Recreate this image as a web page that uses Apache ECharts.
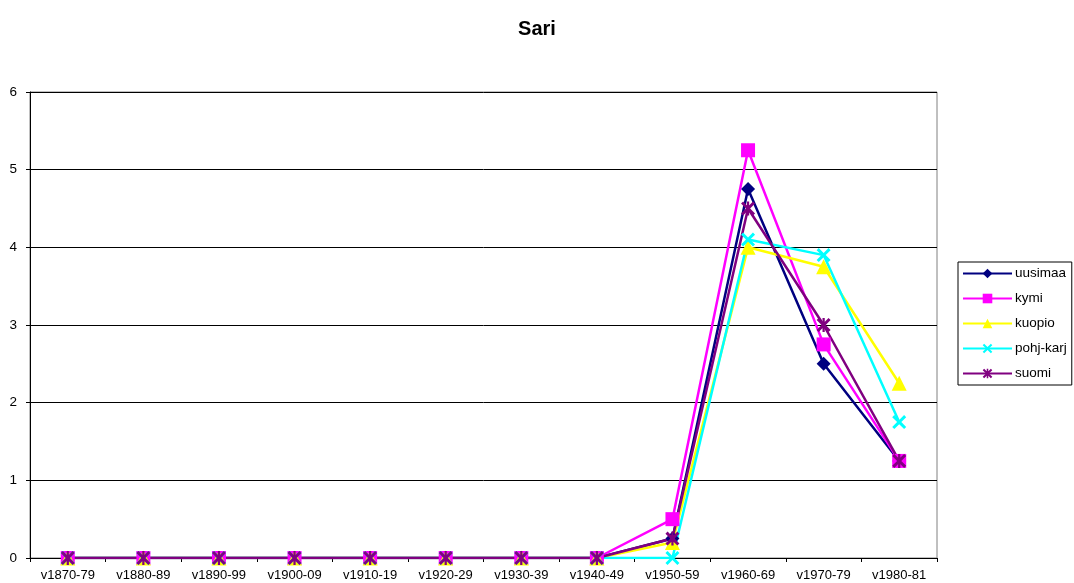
<!DOCTYPE html>
<html>
<head>
<meta charset="utf-8">
<title>Sari</title>
<script src="https://cdn.jsdelivr.net/npm/echarts@6/dist/echarts.min.js"></script>
<style>
  html, body { margin: 0; padding: 0; background: #fff; }
  #main { width: 1074px; height: 583px; }
</style>
</head>
<body>
<div id="main"></div>
<script>
// kategoriat ja arvot
var categories = ['v1870-79', 'v1880-89', 'v1890-99', 'v1900-09', 'v1910-19', 'v1920-29',
                  'v1930-39', 'v1940-49', 'v1950-59', 'v1960-69', 'v1970-79', 'v1980-81'];
var uusimaa  = [0, 0, 0, 0, 0, 0, 0, 0, 0.25, 4.75, 2.5, 1.25];
var kymi     = [0, 0, 0, 0, 0, 0, 0, 0, 0.5, 5.25, 2.75, 1.25];
var kuopio   = [0, 0, 0, 0, 0, 0, 0, 0, 0.2, 4.0, 3.75, 2.25];
var pohjKarj = [0, 0, 0, 0, 0, 0, 0, 0, 0, 4.1, 3.9, 1.75];
var suomi    = [0, 0, 0, 0, 0, 0, 0, 0, 0.25, 4.5, 3.0, 1.25];

// merkit: risti ja tähti täytettyinä polkuina
var crossPath = 'path://M0,1.5 L1.5,0 L5,3.5 L8.5,0 L10,1.5 L6.5,5 L10,8.5 L8.5,10 L5,6.5 L1.5,10 L0,8.5 L3.5,5 Z';
var starPath = 'path://M1.5,0 L5,3.5 L8.5,0 L10,1.5 L6.5,5 L10,8.5 L8.5,10 L5,6.5 L1.5,10 L0,8.5 L3.5,5 L0,1.5 Z M4.2,0 L5.8,0 L5.8,10 L4.2,10 Z';

var FONT = 'Liberation Sans, Arial';

function makeSeries(name, data, color, symbol, size) {
  return {
    name: name,
    type: 'line',
    data: data,
    symbol: symbol,
    symbolSize: size,
    showAllSymbol: true,
    animation: false,
    lineStyle: { color: color, width: 2.5 },
    itemStyle: { color: color },
    emphasis: { disabled: true }
  };
}

var chart = echarts.init(document.getElementById('main'));
chart.setOption({
  backgroundColor: '#fff',
  animation: false,
  title: {
    text: 'Sari',
    left: 'center',
    top: 14,
    textStyle: { fontFamily: FONT, fontSize: 20, fontWeight: 'bold', color: '#000' }
  },
  legend: {
    orient: 'vertical',
    left: 958,
    top: 262,
    padding: [4, 5, 4, 4],
    itemWidth: 49,
    itemHeight: 12,
    itemGap: 10,
    borderColor: '#000',
    borderWidth: 1,
    borderRadius: 0,
    textStyle: { fontFamily: FONT, fontSize: 13.5, lineHeight: 15, color: '#000', padding: [0, 0, 0, -2] },
    data: ['uusimaa', 'kymi', 'kuopio', 'pohj-karj', 'suomi']
  },
  grid: {
    left: 30,
    right: 137,
    top: 92,
    bottom: 25,
    show: true,
    borderColor: '#808080',
    borderWidth: 1,
    containLabel: false
  },
  xAxis: {
    type: 'category',
    data: categories,
    boundaryGap: true,
    axisLine: { lineStyle: { color: '#000', width: 1 } },
    axisTick: { show: true, alignWithLabel: false, length: 4, lineStyle: { color: '#000' } },
    axisLabel: { fontFamily: FONT, fontSize: 13, color: '#000', margin: 11, interval: 0 }
  },
  yAxis: {
    type: 'value',
    min: 0,
    max: 6,
    interval: 1,
    axisLine: { show: true, lineStyle: { color: '#000', width: 1 } },
    axisTick: { show: true, length: 4, lineStyle: { color: '#000' } },
    axisLabel: { fontFamily: FONT, fontSize: 13.5, color: '#000', margin: 13 },
    splitLine: { show: true, lineStyle: { color: '#000', width: 1 } }
  },
  series: [
    makeSeries('uusimaa', uusimaa, '#000080', 'diamond', 14),
    makeSeries('kymi', kymi, '#ff00ff', 'rect', 14),
    makeSeries('kuopio', kuopio, '#ffff00', 'triangle', 15),
    makeSeries('pohj-karj', pohjKarj, '#00ffff', crossPath, 14),
    makeSeries('suomi', suomi, '#800080', starPath, 14)
  ]
});
</script>
</body>
</html>
